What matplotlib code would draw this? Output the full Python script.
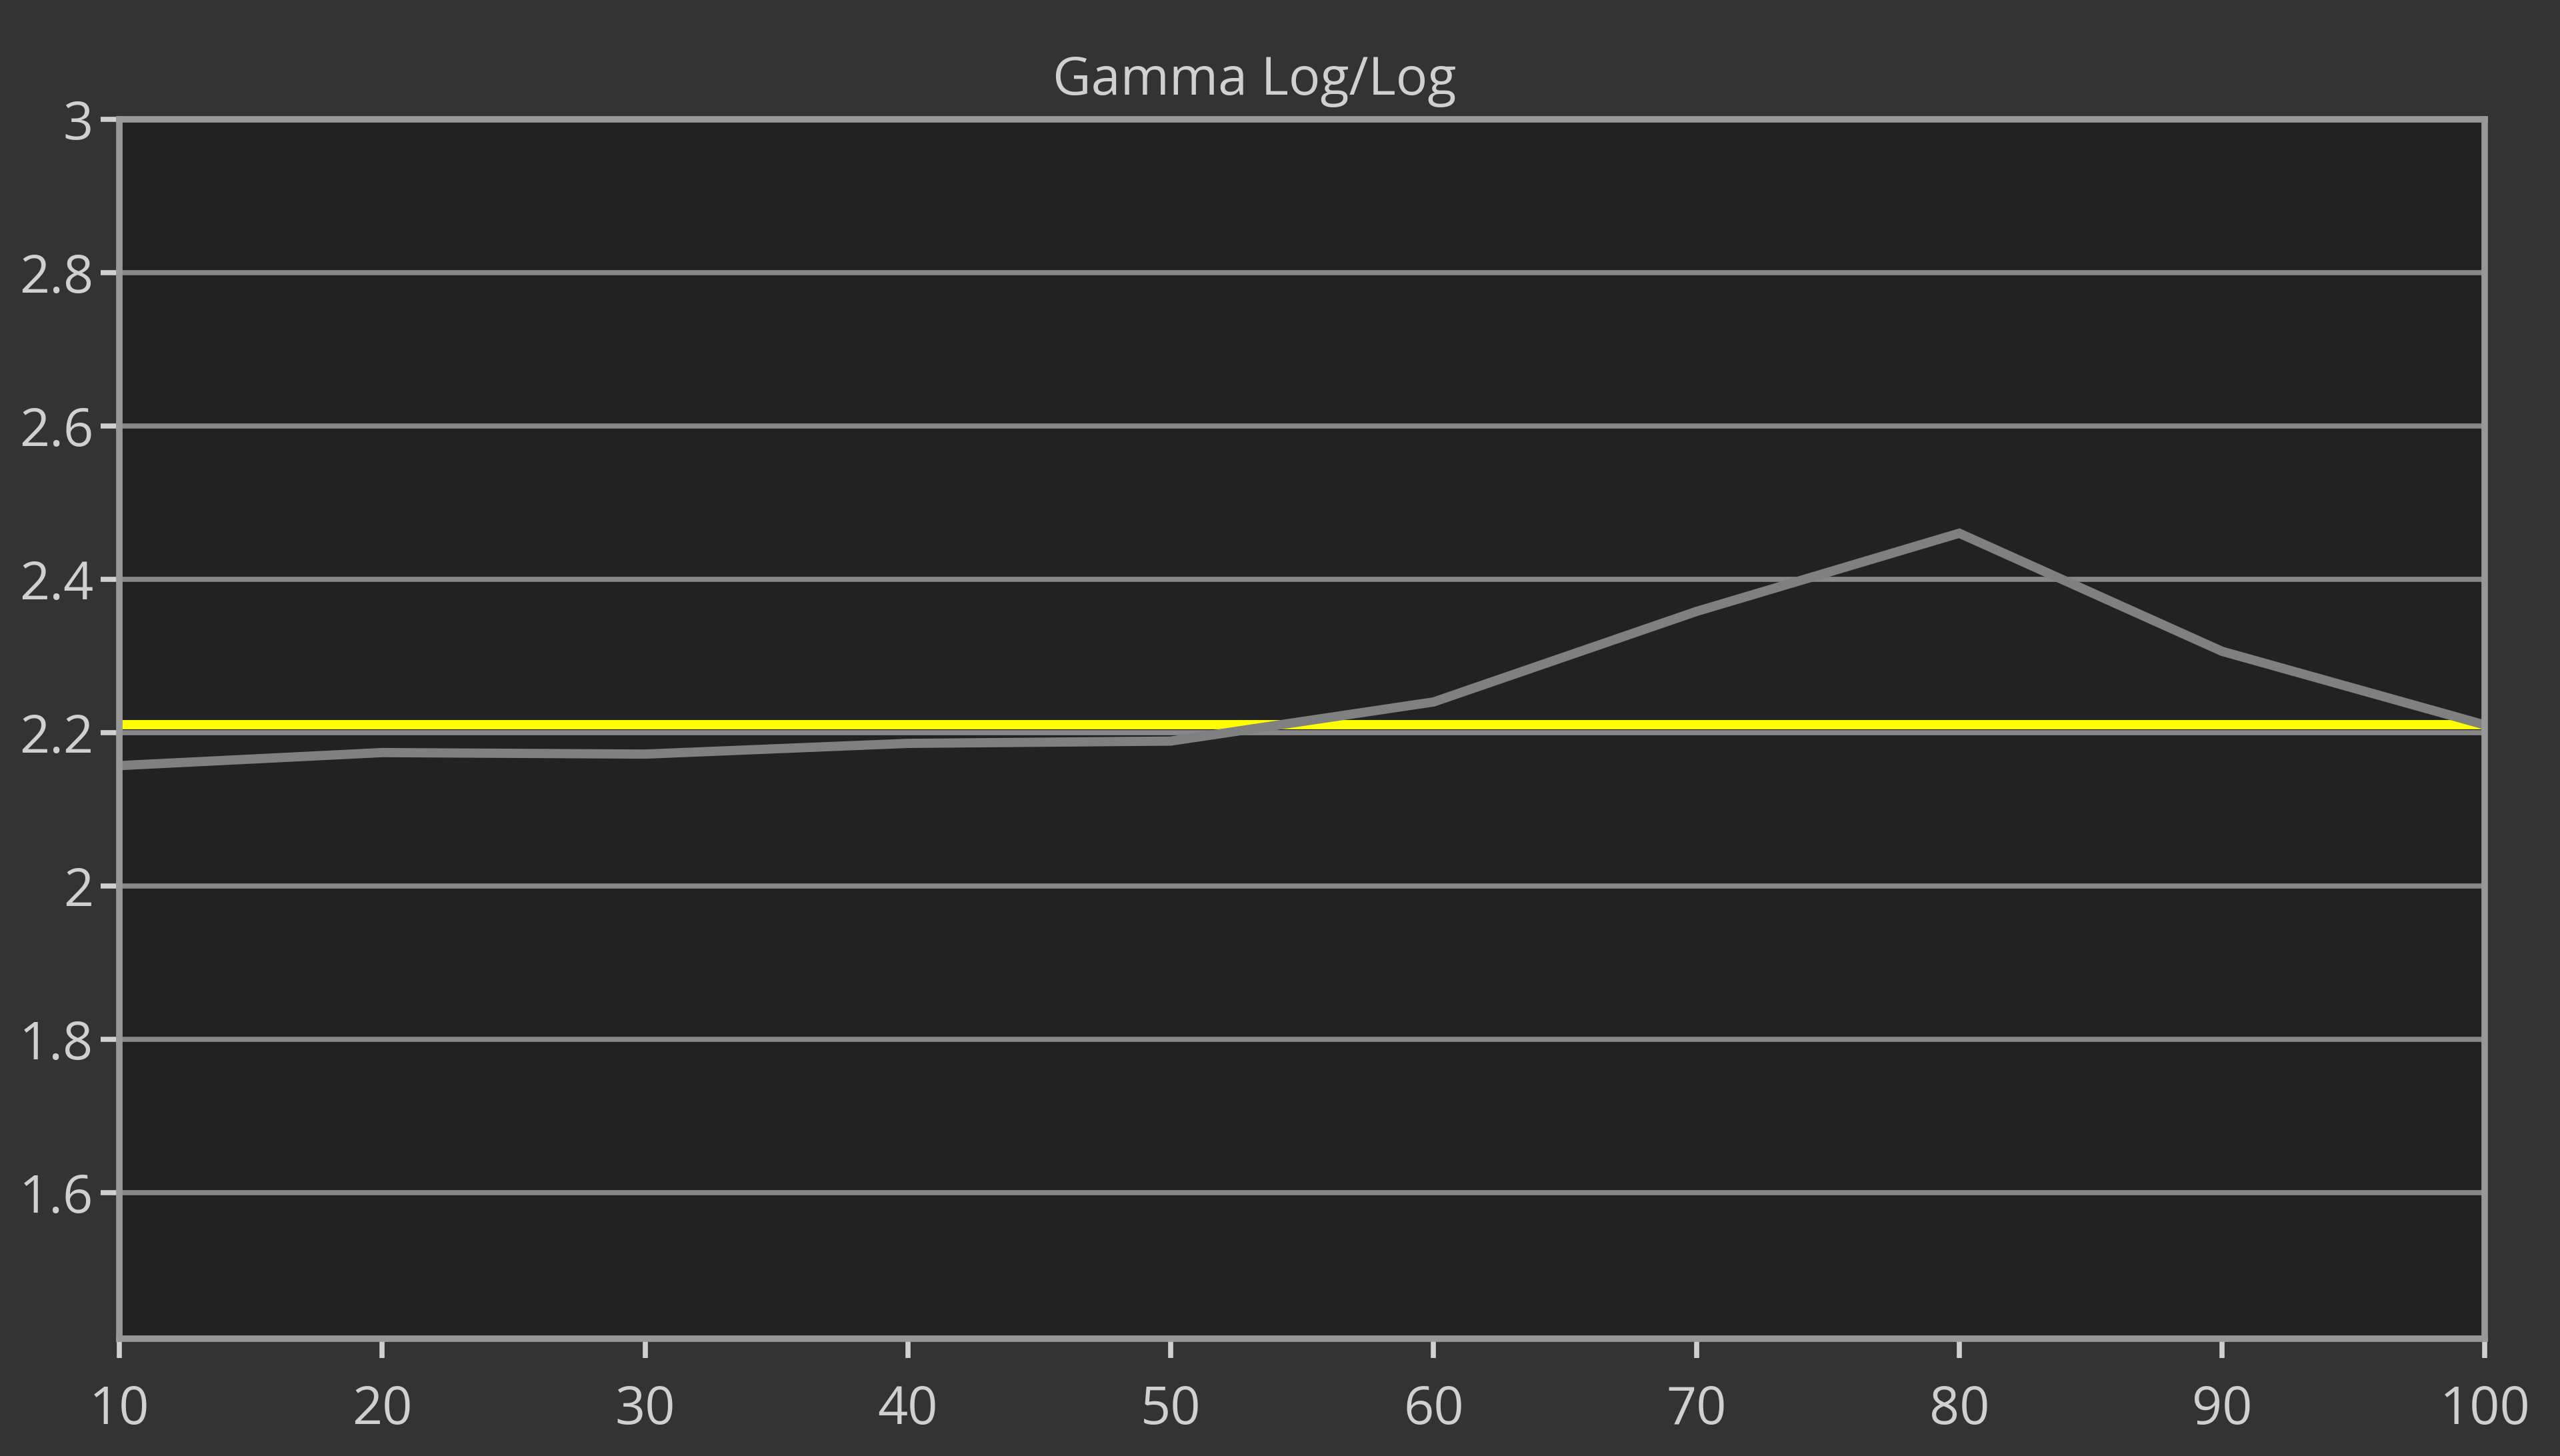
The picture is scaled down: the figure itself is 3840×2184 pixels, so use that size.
import matplotlib
matplotlib.use('Agg')
import matplotlib.pyplot as plt

# gamma measurements
x_vals = [10, 20, 30, 40, 50, 60, 70, 80, 90, 100]
gamma = [2.157, 2.174, 2.172, 2.186, 2.189, 2.240, 2.358, 2.460, 2.306, 2.210]
target = 2.21

x_ticks = [10, 20, 30, 40, 50, 60, 70, 80, 90, 100]
y_ticks = [1.6, 1.8, 2.0, 2.2, 2.4, 2.6, 2.8, 3.0]
y_labels = ['1.6', '1.8', '2', '2.2', '2.4', '2.6', '2.8', '3']

plt.rcParams['font.family'] = ['Open Sans', 'DejaVu Sans']

fig = plt.figure(figsize=(38.4, 21.84), dpi=100, facecolor='#333333')
ax = fig.add_axes([0.0466, 0.0807, 0.9241, 0.8375])
ax.set_facecolor('#222222')

ax.set_xlim(10, 100)
ax.set_ylim(1.41, 3.0)

ax.set_yticks(y_ticks)
ax.set_yticklabels(y_labels)
ax.set_xticks(x_ticks)

ax.grid(axis='y', color='#888888', linewidth=5.5, zorder=1)
ax.grid(axis='x', visible=False)

ax.axhline(target, color='#ffff00', linewidth=10, zorder=2)
ax.plot(x_vals, gamma, color='#808080', linewidth=10, zorder=3,
        solid_joinstyle='miter')

for s in ax.spines.values():
    s.set_color('#989898')
    s.set_linewidth(7)
    s.set_zorder(4)

ax.tick_params(axis='y', colors='#d0d0d0', labelsize=57, length=20, width=5.5, pad=8)
ax.tick_params(axis='x', colors='#d0d0d0', labelsize=57, length=21, width=5.5, pad=28)

fig.text(0.49, 0.935, 'Gamma Log/Log', color='#d0d0d0', fontsize=57,
         ha='center', va='baseline')

fig.savefig('out.png', dpi=100, facecolor=fig.get_facecolor())
